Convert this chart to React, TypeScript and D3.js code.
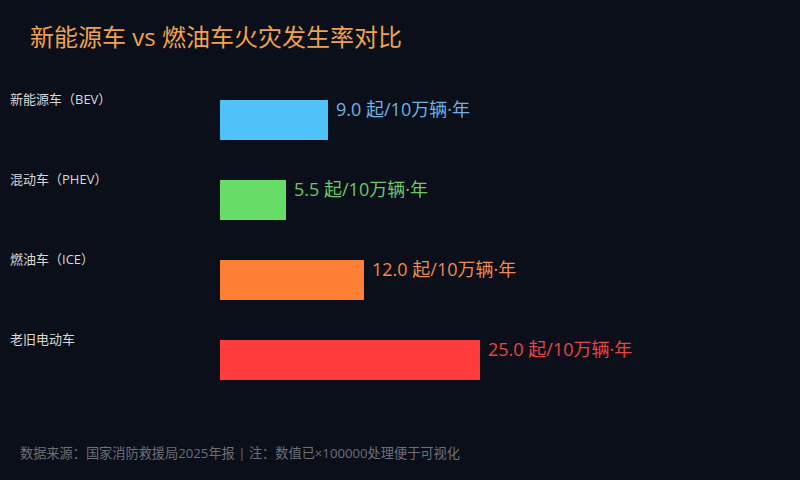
import { useEffect, useRef } from 'react';
import * as d3 from 'd3';

// 图表数据
const categories = ['新能源车（BEV）', '混动车（PHEV）', '燃油车（ICE）', '老旧电动车'];
const rates = [9.0, 5.5, 12.0, 25.0];
const barColors = ['#4fc3f7', '#66dd66', '#ff7f35', '#ff3b3b'];
const labelColors = ['#6bb3e3', '#6cc86c', '#f08a4c', '#e84545'];
const unit = '起/10万辆·年';
const title = '新能源车 vs 燃油车火灾发生率对比';
const footnote = '数据来源：国家消防救援局2025年报 | 注：数值已×100000处理便于可视化';

const W = 800;
const H = 480;

export default function App() {
  const ref = useRef<SVGSVGElement | null>(null);

  useEffect(() => {
    if (!ref.current) return;
    const svg = d3.select(ref.current);
    svg.selectAll('*').remove();

    const font = '"Open Sans", "Noto Sans CJK SC", sans-serif';

    svg.append('rect').attr('width', W).attr('height', H).attr('fill', '#0b0f19');

    svg.append('text')
      .attr('x', 30)
      .attr('y', 46)
      .attr('fill', '#f0a24e')
      .style('font-family', font)
      .style('font-size', '24px')
      .text(title);

    // 宽度上限 260px（原图最长条被截断）
    const x = d3.scaleLinear().domain([0, 260 / 12]).range([220, 480]).clamp(true);

    const y = d3.scaleBand()
      .domain(categories)
      .range([80, 400])
      .paddingInner(0.5)
      .paddingOuter(0.25);

    const rows = svg.append('g')
      .selectAll('g.row')
      .data(categories)
      .enter()
      .append('g')
      .attr('class', 'row');

    // 类别标签
    rows.append('text')
      .attr('x', 10)
      .attr('y', d => (y(d) as number) + 4)
      .attr('fill', '#d8d8d8')
      .style('font-family', font)
      .style('font-size', '13px')
      .text(d => d);

    // 条形
    rows.append('rect')
      .attr('x', x(0))
      .attr('y', d => y(d) as number)
      .attr('width', (d, i) => x(rates[i]) - x(0))
      .attr('height', y.bandwidth())
      .attr('fill', (d, i) => barColors[i]);

    // 数值标签
    rows.append('text')
      .attr('x', (d, i) => x(rates[i]) + 8)
      .attr('y', d => (y(d) as number) + 11)
      .attr('dominant-baseline', 'middle')
      .attr('fill', (d, i) => labelColors[i])
      .style('font-family', font)
      .style('font-size', '18px')
      .text((d, i) => `${rates[i].toFixed(1)} ${unit}`);

    svg.append('text')
      .attr('x', 20)
      .attr('y', 458)
      .attr('fill', '#6b6f78')
      .style('font-family', font)
      .style('font-size', '13.2px')
      .text(footnote);
  }, []);

  return (
    <svg
      ref={ref}
      width={W}
      height={H}
      style={{ position: 'absolute', left: 0, top: 0, display: 'block' }}
    />
  );
}
